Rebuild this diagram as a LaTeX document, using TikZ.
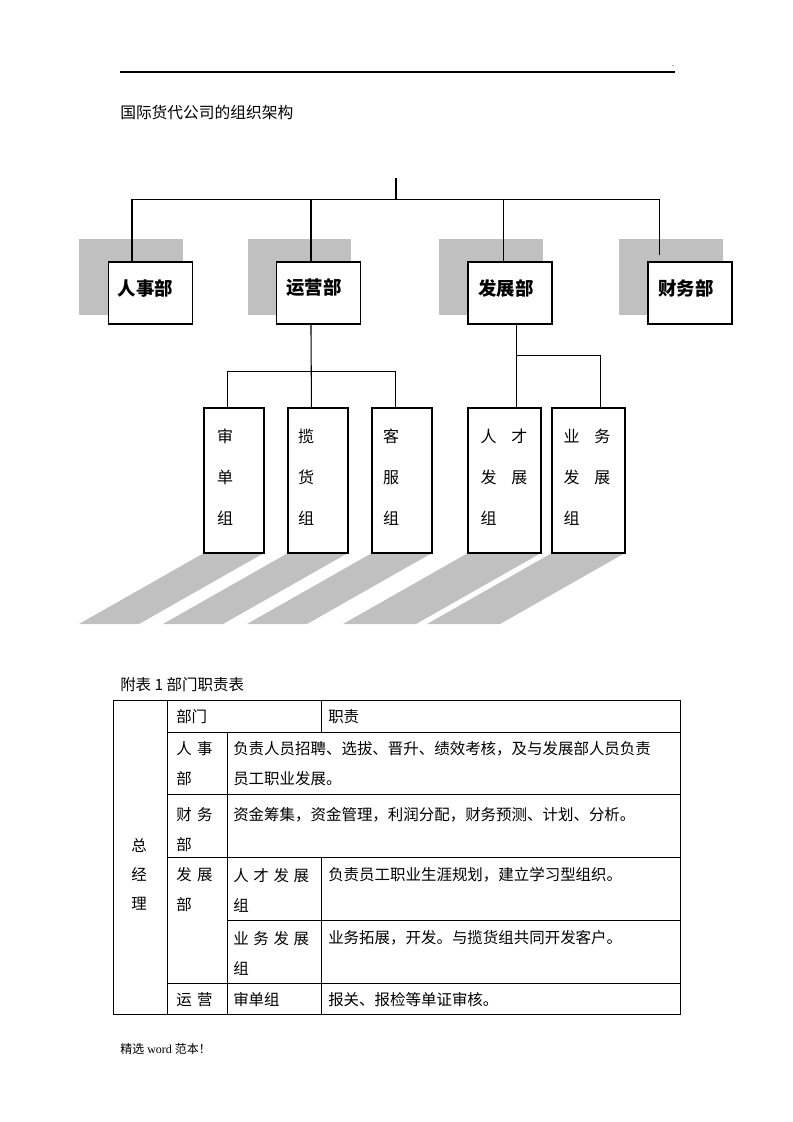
\documentclass[tikz,border=0pt]{standalone}
\usepackage{fontspec}
\setmainfont{Liberation Serif}
\newfontfamily\cjk{Noto Sans CJK SC}
\usetikzlibrary{calc}
\definecolor{shadowgray}{HTML}{C0C0C0}
\tikzset{
  conn/.style={line width=0.8pt},
  shade/.style={fill=shadowgray, draw=none},
  topbox/.style={draw, line width=0.8pt, fill=white, minimum width=63pt, minimum height=46.5pt, inner sep=0pt},
  toplbl/.style={font=\cjk\bfseries\fontsize{13.8}{16}\selectfont, inner sep=0pt},
  grpbox/.style={draw, line width=0.8pt, fill=white, minimum height=108.75pt, inner sep=0pt},
  grptxt/.style={font=\cjk\fontsize{12}{30.75}\selectfont, align=left, inner sep=0pt},
  cell/.style={font=\cjk\fontsize{11.6}{22.5}\selectfont, align=left, inner sep=0pt, anchor=west},
  grid/.style={line width=0.75pt},
  plain/.style={font=\cjk\fontsize{11.8}{14}\selectfont, inner sep=0pt, anchor=west}
}
\begin{document}
\begin{tikzpicture}[x=0.75pt,y=-0.75pt]
\useasboundingbox (0,0) rectangle (793,1122);
% header
\coordinate (hl) at (120,72);
\coordinate (hr) at (675,72);
\draw[line width=0.8pt] (hl) -- (hr);
\node[font=\fontsize{6}{6}\selectfont, inner sep=0pt] (dot) at (673,66) {.};
\node[plain] (title) at (120,112) {国际货代公司的组织架构};

% shadows of department boxes
\fill[shade] (79,239) rectangle (183,315);
\fill[shade] (248,239) rectangle (351,315);
\fill[shade] (439,239) rectangle (543,315);
\fill[shade] (619,239) rectangle (723,315);
% shadows of group boxes
\foreach \a/\b in {204/264, 288/348, 372/432, 468/541, 552/625}
  \fill[shade] (\a,553) -- (\b,553) -- (\b-125,624) -- (\a-125,624) -- cycle;

% department boxes
\node[topbox] (rs) at (150.5,293) {};
\node[topbox] (yy) at (318.5,293) {};
\node[topbox] (fz) at (510,293) {};
\node[topbox] (cw) at (690,293) {};
\node[toplbl] (rs-l) at (145.5,288) {人事部};
\node[toplbl] (yy-l) at (314,288) {运营部};
\node[toplbl] (fz-l) at (506,288) {发展部};
\node[toplbl] (cw-l) at (686,288) {财务部};

% group boxes
\node[grpbox, minimum width=45pt] (g1) at (234,480.5) {};
\node[grpbox, minimum width=45pt] (g2) at (318,480.5) {};
\node[grpbox, minimum width=45pt] (g3) at (402,480.5) {};
\node[grpbox, minimum width=54.75pt] (g4) at (504.5,480.5) {};
\node[grpbox, minimum width=54.75pt] (g5) at (588.5,480.5) {};
\node[grptxt] (g1-t) at (225,477) {审\\单\\组};
\node[grptxt] (g2-t) at (306,477) {揽\\货\\组};
\node[grptxt] (g3-t) at (391,477) {客\\服\\组};
\node[grptxt] (g4-t) at (504,477) {人\hspace{11pt}才\\发\hspace{11pt}展\\组};
\node[grptxt] (g5-t) at (587,477) {业\hspace{11pt}务\\发\hspace{11pt}展\\组};

% connectors
\coordinate (gm) at (396,178);
\coordinate (bus) at (396,200);
\draw[conn] (gm) -- (bus);
\draw[conn] ($(rs.north west)+(24,0)$) |- ($(cw.north west)+(12,-62)$) -- ($(cw.north west)+(12,-6)$);
\draw[conn] ($(yy.north west)+(35,0)$) -- ++(0,-62);
\draw[conn] ($(fz.north west)+(36,0)$) -- ++(0,-62);
\draw[conn] ($(yy.south west)+(35,0)$) -- ($(g2.north west)+(24,0)$);
\draw[conn] ($(g1.north west)+(24,0)$) |- ($(g3.north west)+(24,-36)$) -- ($(g3.north west)+(24,0)$);
\draw[conn] ($(fz.south west)+(49,0)$) -- ($(g4.north west)+(49,0)$);
\draw[conn] ($(g4.north west)+(49,-52)$) -| ($(g5.north west)+(49,0)$);

% table caption
\node[plain, font=\cjk\fontsize{11.6}{14}\selectfont] (cap) at (120,685) {附表 1 部门职责表};

% table grid
\draw[grid] (113,700) rectangle (680,1014);
\draw[grid] (167,700) -- (167,1014);
\draw[grid] (227,732) -- (227,1014);
\draw[grid] (321,700) -- (321,732);
\draw[grid] (321,857) -- (321,1014);
\draw[grid] (167,732) -- (680,732);
\draw[grid] (167,794) -- (680,794);
\draw[grid] (167,857) -- (680,857);
\draw[grid] (227,920) -- (680,920);
\draw[grid] (167,983) -- (680,983);

% table text
\node[cell] (t-bm) at (176,717) {部门};
\node[cell] (t-zz) at (328,717) {职责};
\node[cell] (t-rs) at (176,764) {人\hspace{4pt}事\\部};
\node[cell] (t-rsd) at (233,764) {负责人员招聘、选拔、晋升、绩效考核，及与发展部人员负责\\员工职业发展。};
\node[cell] (t-cw) at (176,830) {财\hspace{4pt}务\\部};
\node[cell] (t-cwd) at (233,815) {资金筹集，资金管理，利润分配，财务预测、计划、分析。};
\node[cell, anchor=center, align=center, font=\cjk\fontsize{11.6}{21.75}\selectfont] (t-zjl) at (139,874) {总\\经\\理};
\node[cell] (t-fz) at (176,890) {发\hspace{4pt}展\\部};
\node[cell] (t-rc) at (233,890) {人\hspace{3.5pt}才\hspace{3.5pt}发\hspace{3.5pt}展\\组};
\node[cell] (t-rcd) at (328,875) {负责员工职业生涯规划，建立学习型组织。};
\node[cell] (t-yw) at (233,953) {业\hspace{3.5pt}务\hspace{3.5pt}发\hspace{3.5pt}展\\组};
\node[cell] (t-ywd) at (328,938) {业务拓展，开发。与揽货组共同开发客户。};
\node[cell] (t-yy) at (176,1000) {运\hspace{4pt}营};
\node[cell] (t-sd) at (233,1000) {审单组};
\node[cell] (t-sdd) at (328,1000) {报关、报检等单证审核。};

% footer
\node[plain, font=\fontsize{9}{11}\selectfont] (foot) at (120,1049) {{\cjk 精选} word {\cjk 范本！}};
\end{tikzpicture}
\end{document}
